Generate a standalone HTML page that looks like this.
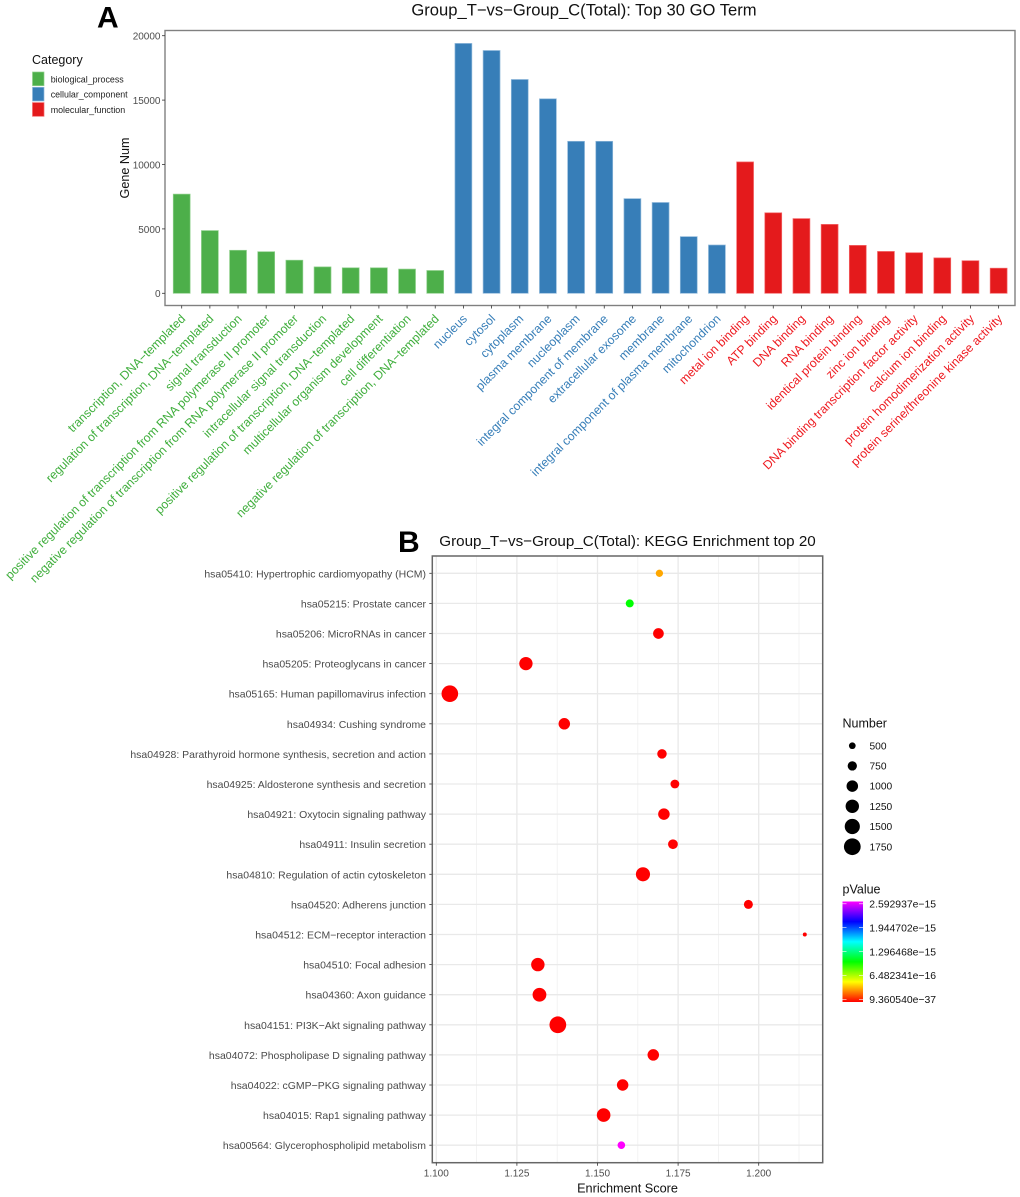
<!DOCTYPE html>
<html><head><meta charset="utf-8"><title>GO and KEGG enrichment</title>
<style>
html,body{margin:0;padding:0;background:#fff;width:1020px;height:1197px;overflow:hidden}
svg{display:block;font-family:"Liberation Sans",sans-serif}
</style></head>
<body>
<svg id="fig" xmlns="http://www.w3.org/2000/svg" width="1020" height="1197" viewBox="0 0 1020 1197"></svg>
<script>
// ---- Panel A data ----
const goTerms = ["transcription, DNA−templated","regulation of transcription, DNA−templated","signal transduction","positive regulation of transcription from RNA polymerase II promoter","negative regulation of transcription from RNA polymerase II promoter","intracellular signal transduction","positive regulation of transcription, DNA−templated","multicellular organism development","cell differentiation","negative regulation of transcription, DNA−templated","nucleus","cytosol","cytoplasm","plasma membrane","nucleoplasm","integral component of membrane","extracellular exosome","membrane","integral component of plasma membrane","mitochondrion","metal ion binding","ATP binding","DNA binding","RNA binding","identical protein binding","zinc ion binding","DNA binding transcription factor activity","calcium ion binding","protein homodimerization activity","protein serine/threonine kinase activity"];
const goCounts = [7700,4870,3340,3230,2570,2050,1980,1980,1880,1770,19400,18850,16600,15100,11800,11800,7350,7050,4400,3750,10200,6250,5800,5350,3720,3250,3150,2750,2530,1950];
const goCategories = ["biological_process","biological_process","biological_process","biological_process","biological_process","biological_process","biological_process","biological_process","biological_process","biological_process","cellular_component","cellular_component","cellular_component","cellular_component","cellular_component","cellular_component","cellular_component","cellular_component","cellular_component","cellular_component","molecular_function","molecular_function","molecular_function","molecular_function","molecular_function","molecular_function","molecular_function","molecular_function","molecular_function","molecular_function"];
const categoryNames = ["biological_process","cellular_component","molecular_function"];
const goTicks = [0,5000,10000,15000,20000];
// ---- Panel B data ----
const keggTerms = ["hsa05410: Hypertrophic cardiomyopathy (HCM)","hsa05215: Prostate cancer","hsa05206: MicroRNAs in cancer","hsa05205: Proteoglycans in cancer","hsa05165: Human papillomavirus infection","hsa04934: Cushing syndrome","hsa04928: Parathyroid hormone synthesis, secretion and action","hsa04925: Aldosterone synthesis and secretion","hsa04921: Oxytocin signaling pathway","hsa04911: Insulin secretion","hsa04810: Regulation of actin cytoskeleton","hsa04520: Adherens junction","hsa04512: ECM−receptor interaction","hsa04510: Focal adhesion","hsa04360: Axon guidance","hsa04151: PI3K−Akt signaling pathway","hsa04072: Phospholipase D signaling pathway","hsa04022: cGMP−PKG signaling pathway","hsa04015: Rap1 signaling pathway","hsa00564: Glycerophospholipid metabolism"];
const keggScores = [1.1692,1.1600,1.1689,1.1278,1.1042,1.1397,1.1700,1.1740,1.1706,1.1734,1.1641,1.1968,1.2143,1.1315,1.1320,1.1377,1.1673,1.1578,1.1519,1.1574];
const keggNumbers = [552,618,905,1235,1730,1000,771,700,1000,800,1350,720,290,1250,1300,1750,1000,1000,1280,580];
const keggPValues = [3.4e-16,1.04e-15,1e-20,1e-20,1e-30,1e-20,1e-20,1e-20,1e-20,1e-20,1e-20,1e-20,1e-20,1e-30,1e-30,1e-36,1e-20,1e-20,1e-25,2.592937e-15];
const scoreTicks = [1.100,1.125,1.150,1.175,1.200];
const scoreMinorTicks = [1.1125,1.1375,1.1625,1.1875,1.2125];
const numberLegend = [500,750,1000,1250,1500,1750];
const pValueLabels = ["9.360540e−37","6.482341e−16","1.296468e−15","1.944702e−15","2.592937e−15"];
const pValueBreaks = [9.36054e-37,6.482341e-16,1.296468e-15,1.944702e-15,2.592937e-15];
const rainbowStops = ["#ff0000","#ffff00","#00ff00","#00ffff","#0000ff","#ff00ff"];

const NS = "http://www.w3.org/2000/svg";
const svg = document.getElementById("fig");
function mk(tag, attrs, parent, text){
  const e = document.createElementNS(NS, tag);
  for (const k in attrs) e.setAttribute(k, attrs[k]);
  if (text !== undefined) e.textContent = text;
  (parent || svg).appendChild(e);
  return e;
}
function group(parent){ return mk("g", {}, parent); }

const catFill = {biological_process:"#4daf4a",cellular_component:"#377eb8",molecular_function:"#e41a1c"};
const catStroke = {biological_process:"#8fd08c",cellular_component:"#8fb8da",molecular_function:"#f4686a"};
const catText = {biological_process:"#3fae3c",cellular_component:"#377eb8",molecular_function:"#ee1a20"};

// ---- Panel A axes ----
const A = {left:165, right:1015, top:30.5, bottom:305.5, x0:181.7, dx:28.17, y0:293.3, per:257.6/20000};
function goX(i){ return A.x0 + i*A.dx; }
function goY(v){ return A.y0 - v*A.per; }

let el;
el = mk("text",{x:97,y:27.5,"font-size":30,"font-weight":"bold",fill:"#000"},svg,"A");


el = mk("text",{x:584,y:15.5,"font-size":16.6,"text-anchor":"middle",fill:"#111"},svg,"Group_T−vs−Group_C(Total): Top 30 GO Term");



const gA = group();



goCounts.forEach(function(v,i){
  const c = goCategories[i];
  const b = mk("rect",{x:goX(i)-8.45,y:goY(v),width:16.9,height:goY(0)-goY(v),fill:catFill[c],stroke:catStroke[c],"stroke-width":0.7},gA);
  
  
});
const frameA = mk("rect",{x:A.left,y:A.top,width:A.right-A.left,height:A.bottom-A.top,fill:"none",stroke:"#808080","stroke-width":1.4},gA);



goTicks.forEach(function(t){
  mk("line",{x1:A.left-3,x2:A.left,y1:goY(t),y2:goY(t),stroke:"#333","stroke-width":0.8},gA);
  const l = mk("text",{x:A.left-4.5,y:goY(t)+3.9,"font-size":10,"text-anchor":"end",fill:"#4d4d4d"},gA,String(t));
  
  
});
goTerms.forEach(function(t,i){
  const x = goX(i);
  mk("line",{x1:x,x2:x,y1:A.bottom,y2:A.bottom+3,stroke:"#333","stroke-width":0.8},gA);
  const l = mk("text",{transform:"translate("+(x+4.5)+" "+(A.bottom+14)+") rotate(-45)","font-size":12.25,"text-anchor":"end",fill:catText[goCategories[i]]},gA,t);
  
  
});
el = mk("text",{transform:"translate(129 168) rotate(-90)","font-size":12.6,"text-anchor":"middle",fill:"#111"},gA,"Gene Num");



// Category legend
el = mk("text",{x:32,y:64,"font-size":12.5,fill:"#111"},svg,"Category");


categoryNames.forEach(function(n,i){
  const y = 72 + i*15.3;
  const r = mk("rect",{x:32.5,y:y,width:11.5,height:13.7,fill:catFill[n],stroke:catStroke[n],"stroke-width":0.7});
  
  
  const l = mk("text",{x:50.7,y:y+10.3,"font-size":8.9,fill:"#222"},svg,n);
  
  
});

// ---- Panel B axes ----
const B = {left:432.3, right:822.7, top:556, bottom:1162.7, x0:436.3, perX:80.6/0.025, y0:573.3, dy:30.1};
function scoreX(v){ return B.x0 + (v-1.1)*B.perX; }
function rowY(i){ return B.y0 + i*B.dy; }
function dotDiameter(n){ return 0.515*Math.sqrt(n) - 4.8; }
function hex2(s){ return parseInt(s,16); }
function pColor(p){
  const f = Math.min(1, Math.max(0, p/2.592937e-15)) * (rainbowStops.length-1);
  const i = Math.min(rainbowStops.length-2, Math.floor(f)), t = f-i;
  const a = rainbowStops[i], b = rainbowStops[i+1];
  const c = [1,3,5].map(function(k){
    return Math.round(hex2(a.substr(k,2))*(1-t)+hex2(b.substr(k,2))*t);
  });
  return "rgb("+c.join(",")+")";
}

el = mk("text",{x:398,y:552,"font-size":30,"font-weight":"bold",fill:"#000"},svg,"B");


el = mk("text",{x:627.5,y:546,"font-size":15.2,"text-anchor":"middle",fill:"#111"},svg,"Group_T−vs−Group_C(Total): KEGG Enrichment top 20");



const gB = group();



scoreMinorTicks.forEach(function(t){
  const g = mk("line",{x1:scoreX(t),x2:scoreX(t),y1:B.top,y2:B.bottom,stroke:"#f0f0f0","stroke-width":0.8},gB);
  
  
});
scoreTicks.forEach(function(t){
  const g = mk("line",{x1:scoreX(t),x2:scoreX(t),y1:B.top,y2:B.bottom,stroke:"#e9e9e9","stroke-width":1.3},gB);
  
  
});
keggTerms.forEach(function(t,i){
  const y = rowY(i);
  const g = mk("line",{x1:B.left,x2:B.right,y1:y,y2:y,stroke:"#e9e9e9","stroke-width":1.3},gB);
  
  
  mk("line",{x1:B.left-3,x2:B.left,y1:y,y2:y,stroke:"#333","stroke-width":0.8},gB);
  const l = mk("text",{x:B.left-6.3,y:y+4,"font-size":10.47,"text-anchor":"end",fill:"#4a4a4a"},gB,t);
  
  
});
keggScores.forEach(function(v,i){
  const d = mk("circle",{cx:scoreX(v),cy:rowY(i),r:dotDiameter(keggNumbers[i])/2,fill:pColor(keggPValues[i])},gB);
  
  
});
const frameB = mk("rect",{x:B.left,y:B.top,width:B.right-B.left,height:B.bottom-B.top,fill:"none",stroke:"#666","stroke-width":1.5},gB);


scoreTicks.forEach(function(t){
  const x = scoreX(t);
  mk("line",{x1:x,x2:x,y1:B.bottom,y2:B.bottom+3,stroke:"#333","stroke-width":0.8},gB);
  const l = mk("text",{x:x,y:B.bottom+14,"font-size":10,"text-anchor":"middle",fill:"#4d4d4d"},gB,t.toFixed(3));
  
  
});
el = mk("text",{x:627.5,y:1192.5,"font-size":12.7,"text-anchor":"middle",fill:"#111"},gB,"Enrichment Score");



// Number legend
el = mk("text",{x:842.5,y:727.5,"font-size":12.5,fill:"#111"},svg,"Number");


numberLegend.forEach(function(n,i){
  const y = 745.7 + i*20.2;
  const c = mk("circle",{cx:852.3,cy:y,r:dotDiameter(n)/2,fill:"#000"});
  
  
  const l = mk("text",{x:869.5,y:y+3.6,"font-size":10.2,fill:"#111"},svg,String(n));
  
  
});

// pValue legend
el = mk("text",{x:842.5,y:893.5,"font-size":12.5,fill:"#111"},svg,"pValue");


const defs = mk("defs",{});
const grad = mk("linearGradient",{id:"rb",x1:0,y1:1,x2:0,y2:0},defs);
rainbowStops.forEach(function(c,i){ mk("stop",{offset:i/(rainbowStops.length-1),"stop-color":c},grad); });
const bar = mk("rect",{x:842.5,y:901.5,width:20.5,height:100.5,fill:"url(#rb)"});


function pLegendY(p){ return 999.3 - (p/2.592937e-15)*95.5; }
pValueBreaks.forEach(function(p,i){
  const y = pLegendY(p);
  mk("line",{x1:842.5,x2:846.5,y1:y,y2:y,stroke:"#fff","stroke-width":0.6});
  mk("line",{x1:859,x2:863,y1:y,y2:y,stroke:"#fff","stroke-width":0.6});
  const l = mk("text",{x:869.3,y:y+3.8,"font-size":10.4,fill:"#111"},svg,pValueLabels[i]);
  
  
});
</script>
</body></html>
